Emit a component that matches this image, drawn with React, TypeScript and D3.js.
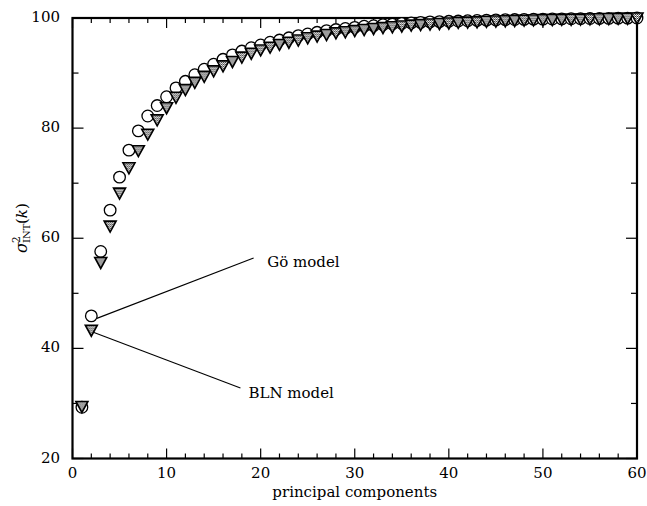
import React from "react";
import * as d3 from "d3";

// Cumulative variance captured by the first k principal components
const components = d3.range(1, 61);
const goModel = [
  29.3, 45.9, 57.6, 65.1, 71.1, 76.0, 79.5, 82.2, 84.1, 85.7,
  87.3, 88.5, 89.7, 90.7, 91.6, 92.5, 93.3, 94.0, 94.6, 95.1,
  95.6, 96.0, 96.4, 96.8, 97.1, 97.4, 97.7, 97.9, 98.1, 98.3,
  98.5, 98.6, 98.8, 98.9, 99.0, 99.1, 99.2, 99.3, 99.35, 99.4,
  99.45, 99.5, 99.55, 99.6, 99.65, 99.7, 99.72, 99.75, 99.78, 99.8,
  99.82, 99.84, 99.86, 99.88, 99.9, 99.92, 99.94, 99.96, 99.98, 100.0,
];
const blnModel = [
  29.45, 43.3, 55.6, 62.2, 68.2, 72.8, 75.9, 78.9, 81.5, 83.7,
  85.6, 87.0, 88.3, 89.4, 90.4, 91.3, 92.1, 92.9, 93.6, 94.2,
  94.7, 95.2, 95.6, 96.0, 96.4, 96.7, 97.0, 97.3, 97.5, 97.7,
  97.9, 98.1, 98.25, 98.4, 98.55, 98.7, 98.8, 98.9, 99.0, 99.1,
  99.2, 99.25, 99.3, 99.4, 99.45, 99.5, 99.55, 99.6, 99.65, 99.7,
  99.72, 99.75, 99.78, 99.8, 99.83, 99.86, 99.9, 99.93, 99.96, 100.0,
];

const xTicksMajor = [0, 10, 20, 30, 40, 50, 60];
const xTicksMinor = d3.range(0, 61, 2);
const yTicksMajor = [20, 40, 60, 80, 100];
const yTicksMinor = [30, 50, 70, 90];

const FONT = "'DejaVu Serif', serif";

export default function App() {
  const width = 647;
  const height = 506;
  const x = d3.scaleLinear().domain([0, 60]).range([72.5, 637]);
  const y = d3.scaleLinear().domain([20, 100]).range([458.5, 18]);
  const [x0, x1] = x.range();
  const [yb, yt] = y.range();

  const triPath = "M-6,-5L6,-5L0,6Z";

  return (
    <svg
      width={width}
      height={height}
      style={{ position: "absolute", left: 0, top: 0, background: "#fff" }}
      fontFamily={FONT}
    >
      <defs>
        <pattern id="dither" width={2} height={2} patternUnits="userSpaceOnUse">
          <rect width={2} height={2} fill="#fff" />
          <rect x={0} y={0} width={1} height={1} fill="#333" />
          <rect x={1} y={1} width={1} height={1} fill="#777" />
          <rect x={1} y={0} width={1} height={1} fill="#ccc" />
        </pattern>
      </defs>

      {/* frame */}
      <rect x={x0} y={yt} width={x1 - x0} height={yb - yt} fill="none" stroke="#000" strokeWidth={2.2} />

      {/* x ticks, bottom and top, pointing inward */}
      {xTicksMinor.map((t) => {
        const len = xTicksMajor.includes(t) ? 10 : 5;
        return (
          <g key={"xt" + t} stroke="#000" strokeWidth={1.2}>
            <line x1={x(t)} x2={x(t)} y1={yb} y2={yb - len} />
            <line x1={x(t)} x2={x(t)} y1={yt} y2={yt + len} />
          </g>
        );
      })}
      {/* y ticks, left and right */}
      {[...yTicksMajor, ...yTicksMinor].map((t) => {
        const len = yTicksMajor.includes(t) ? 11 : 6;
        return (
          <g key={"yt" + t} stroke="#000" strokeWidth={1.2}>
            <line x1={x0} x2={x0 + len} y1={y(t)} y2={y(t)} />
            <line x1={x1} x2={x1 - len} y1={y(t)} y2={y(t)} />
          </g>
        );
      })}

      {/* tick labels */}
      {xTicksMajor.map((t) => (
        <text key={"xl" + t} x={x(t)} y={478} textAnchor="middle" fontSize={15}>
          {t}
        </text>
      ))}
      {yTicksMajor.map((t) => (
        <text key={"yl" + t} x={60} y={y(t) + 4} textAnchor="end" fontSize={15}>
          {t}
        </text>
      ))}

      {/* axis titles */}
      <text x={(x0 + x1) / 2} y={497} textAnchor="middle" fontSize={15}>
        principal components
      </text>
      <g transform="translate(27,253) rotate(-90)">
        <text x={0} y={0} fontSize={16} fontStyle="italic">σ</text>
        <text x={10} y={-7} fontSize={10.5}>2</text>
        <text x={10} y={3} fontSize={10}>INT</text>
        <text x={29} y={0} fontSize={15}>
          (<tspan fontStyle="italic">k</tspan>)
        </text>
      </g>

      {/* annotation leaders */}
      <line x1={x(2) + 5.5} y1={y(goModel[1]) + 2.5} x2={x(19.25)} y2={y(56.4)} stroke="#000" strokeWidth={1.1} />
      <line x1={x(2) + 2} y1={y(blnModel[1]) + 2} x2={x(17.85)} y2={y(32.8)} stroke="#000" strokeWidth={1.1} />
      <text x={x(20.7)} y={y(54.85)} fontSize={15}>Gö model</text>
      <text x={x(18.7)} y={y(31.0)} fontSize={15}>BLN model</text>

      {/* Gō model: open circles */}
      {components.map((k, i) => (
        <circle key={"c" + k} cx={x(k)} cy={y(goModel[i])} r={5.8} fill="#fff" stroke="#000" strokeWidth={1.3} />
      ))}
      {/* BLN model: shaded down-triangles */}
      {components.map((k, i) => (
        <path
          key={"t" + k}
          d={triPath}
          transform={`translate(${x(k)},${y(blnModel[i])})`}
          fill="url(#dither)"
          stroke="#000"
          strokeWidth={1.6}
          strokeLinejoin="miter"
        />
      ))}
    </svg>
  );
}
